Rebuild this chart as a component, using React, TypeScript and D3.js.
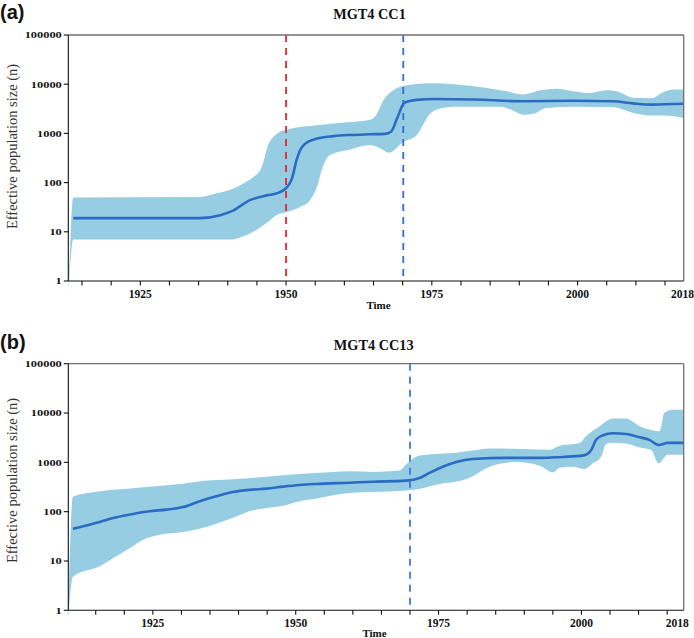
import React from "react";
import * as d3 from "d3";

type Pt = [number, number];

// ---------- data ----------
const yTickValues = [1, 10, 100, 1000, 10000, 100000];
const yTickLabels = ["1", "10", "100", "1000", "10000", "100000"];
const xTickYears = [1915, 1920, 1925, 1930, 1935, 1940, 1945, 1950, 1955, 1960, 1965, 1970, 1975, 1980, 1985, 1990, 1995, 2000, 2005, 2010, 2015];
const xLabelYears = [1925, 1950, 1975, 2000, 2018];

const cc1Median: Pt[] = [
  [1913.5, 19], [1935.2, 19], [1938.7, 21.8], [1940.9, 27], [1943.8, 44], [1946.7, 55], [1948.5, 61],
  [1950, 77], [1951.0, 120], [1951.8, 285], [1952.4, 454], [1953.3, 620], [1955.3, 785], [1958.1, 880],
  [1961, 930], [1964.4, 960], [1967.0, 980], [1968.0, 1080], [1969.1, 2100], [1970.3, 4200], [1972.4, 4800],
  [1975.4, 5000], [1982.1, 4900], [1990.7, 4500], [1999.2, 4600], [2006.1, 4500], [2009.5, 4080],
  [2012.7, 3850], [2018.2, 4000],
];
const cc1Upper: Pt[] = [
  [1912.7, 0.6], [1913.5, 50], [1935.2, 51], [1938, 60], [1940.9, 75], [1943.1, 103], [1944.4, 130],
  [1945.7, 193], [1946.2, 283], [1946.8, 530], [1948.5, 990], [1950, 1190], [1955.3, 1460], [1961, 1700],
  [1964.4, 1900], [1965.5, 2400], [1966.7, 4700], [1968.4, 7500], [1970.7, 9500], [1974.7, 10500],
  [1979.3, 9900], [1987.9, 7200], [1990.7, 6200], [1993.6, 7500], [1996.4, 8100], [1999.3, 7200],
  [2002.1, 6600], [2005, 7500], [2006.7, 7200], [2009.6, 5300], [2012.7, 5200], [2014.7, 6900],
  [2016.4, 7800], [2018.2, 7800],
];
const cc1Lower: Pt[] = [
  [1912.7, 0.55], [1913.5, 7], [1940.9, 7], [1942.1, 7.7], [1944.4, 10], [1946.7, 15.2], [1948.4, 22],
  [1950, 25], [1952.4, 32], [1954.1, 44], [1955.3, 82], [1956.1, 177], [1957.5, 358], [1961, 470],
  [1964.4, 580], [1966.5, 470], [1967.6, 405], [1970.1, 670], [1972.4, 920], [1974.7, 2500],
  [1976.4, 3200], [1979.3, 3500], [1986.7, 3500], [1989, 2900], [1990.7, 2400], [1992.4, 2500],
  [1994.7, 3300], [1999.3, 3500], [2006.1, 3400], [2009.6, 2600], [2012.7, 2300], [2014.7, 2300],
  [2018.2, 2050],
];

const cc13Median: Pt[] = [
  [1911.0, 45], [1915.7, 62], [1918.6, 77], [1921.5, 90], [1924.4, 102], [1927.4, 110], [1930.3, 124],
  [1933.2, 163], [1936.1, 205], [1939.0, 250], [1941.9, 277], [1944.9, 293], [1947.8, 322], [1950.7, 348],
  [1953.6, 365], [1959.4, 387], [1963.5, 405], [1969.3, 425], [1971.7, 483], [1973.4, 610], [1975.2, 770],
  [1978.1, 1020], [1981.0, 1170], [1986.8, 1230], [1992.7, 1230], [1995.6, 1270], [1999.7, 1350],
  [2000.8, 1430], [2001.7, 1760], [2002.6, 2900], [2003.8, 3550], [2005.5, 3900], [2007.8, 3750],
  [2010.2, 3230], [2011.9, 2850], [2013.5, 2250], [2015.1, 2480], [2017.9, 2480],
];
const cc13Upper: Pt[] = [
  [1910.2, 1.0], [1911.0, 200], [1915.7, 260], [1921.5, 300], [1927.4, 343], [1930.3, 370], [1933.2, 413],
  [1939.0, 454], [1944.9, 513], [1950.7, 582], [1956.5, 639], [1959.4, 660], [1963.5, 640], [1968.2, 680],
  [1969.3, 900], [1971.7, 1370], [1975.2, 1500], [1978.1, 1570], [1981.0, 1730], [1983.9, 1900],
  [1989.7, 1870], [1994.5, 1810], [1996.2, 2180], [1999.7, 2480], [2000.8, 3380], [2003.2, 5400],
  [2005.5, 7700], [2007.8, 7700], [2010.2, 5400], [2012.2, 4540], [2013.7, 4270], [2014.5, 10000],
  [2016.0, 11600], [2017.9, 11600],
];
const cc13Lower: Pt[] = [
  [1910.2, 0.6], [1911.0, 4.8], [1915.7, 7.8], [1918.6, 12.4], [1921.5, 19.9], [1923.3, 27], [1926.2, 34],
  [1930.3, 38.7], [1933.2, 45], [1936.1, 57], [1939.0, 75], [1941.9, 102], [1944.9, 119], [1947.8, 132],
  [1950.7, 163], [1953.6, 184], [1956.5, 215], [1959.4, 240], [1963.5, 250], [1969.3, 267], [1972.2, 300],
  [1975.2, 365], [1979.2, 433], [1981.0, 522], [1982.7, 690], [1985.1, 900], [1988.6, 1020], [1992.7, 857],
  [1995.0, 630], [1996.2, 780], [1998.5, 818], [2000.6, 735], [2002.0, 955], [2003.5, 1330], [2004.3, 2360],
  [2005.5, 2500], [2007.8, 2400], [2010.2, 1990], [2012.2, 1790], [2013.5, 955], [2015.1, 1420],
  [2017.9, 1420],
];

// ---------- layout ----------
const W = 694;
const H = 638;
const L = 68.3;
const R = 683.7;
const SERIF = "'Liberation Serif', 'Times New Roman', serif";
const SANS = "'Liberation Sans', Arial, sans-serif";
const BAND = "#96cde3";
const LINE = "#2b6cc3";

const panels = [
  {
    key: "a",
    letter: "(a)",
    letterY: 18.5,
    title: "MGT4 CC1",
    titleX: 369.5,
    titleY: 19.3,
    yTitleY: 146.5,
    top: 35,
    bottom: 281,
    domain: [1912.65, 2018.2],
    median: cc1Median,
    upper: cc1Upper,
    lower: cc1Lower,
    vlines: [
      { year: 1950, color: "#e8262a" },
      { year: 1970.1, color: "#2f6fdc" },
    ],
    lastShift: 0,
    timeX: 378.5,
    timeY: 309,
  },
  {
    key: "b",
    letter: "(b)",
    letterY: 348.6,
    title: "MGT4 CC13",
    titleX: 373.7,
    titleY: 350,
    yTitleY: 480.5,
    top: 363.7,
    bottom: 610.3,
    domain: [1910.2, 2017.9],
    median: cc13Median,
    upper: cc13Upper,
    lower: cc13Lower,
    vlines: [{ year: 1970, color: "#3b76e6" }],
    lastShift: -7,
    timeX: 374.5,
    timeY: 636.5,
  },
];

function Panel({ p }: { p: (typeof panels)[number] }) {
  const x = d3.scaleLinear().domain(p.domain).range([L, R]);
  const y = d3.scaleLog().domain([1, 100000]).range([p.bottom, p.top]);
  const line = d3
    .line<Pt>()
    .x((d) => x(d[0]))
    .y((d) => y(d[1]))
    .curve(d3.curveMonotoneX);
  const up = line(p.upper) as string;
  const lo = line([...p.lower].reverse()) as string;
  const area = up + "L" + lo.slice(1) + "Z";
  const med = line(p.median) as string;

  return (
    <g>
      <text x={0} y={p.letterY} fontFamily={SANS} fontWeight="bold" fontSize={20} fill="#111">
        {p.letter}
      </text>
      <text x={p.titleX} y={p.titleY} textAnchor="middle" fontFamily={SERIF} fontWeight="bold" fontSize={14.3} fill="#111">
        {p.title}
      </text>
      <text
        transform={`translate(12,${p.yTitleY}) rotate(-90)`}
        textAnchor="middle"
        dominantBaseline="central"
        fontFamily={SERIF}
        fontSize={14.5}
        fill="#333"
      >
        Effective population size (n)
      </text>

      <path d={area} fill={BAND} stroke="none" />
      <path d={med} fill="none" stroke={LINE} strokeWidth={2.6} strokeLinejoin="round" />

      {p.vlines.map((v, i) => (
        <line
          key={i}
          x1={x(v.year)}
          x2={x(v.year)}
          y1={p.top}
          y2={p.bottom}
          stroke={v.color}
          strokeWidth={1.8}
          strokeDasharray="7,6"
        />
      ))}

      {/* frame */}
      <line x1={L} x2={R} y1={p.top} y2={p.top} stroke="#707070" strokeWidth={1.3} />
      <line x1={R} x2={R} y1={p.top} y2={p.bottom} stroke="#707070" strokeWidth={1.3} />
      <line x1={L} x2={L} y1={p.top} y2={p.bottom} stroke="#111" strokeWidth={1.1} />
      <line x1={L} x2={R} y1={p.bottom} y2={p.bottom} stroke="#111" strokeWidth={1.1} />

      {yTickValues.map((v, i) => (
        <g key={v}>
          <line x1={L - 4.5} x2={L} y1={y(v)} y2={y(v)} stroke="#111" strokeWidth={1.1} />
          <text
            transform={`translate(${L - 6.5},${y(v)}) scale(1,0.74)`}
            textAnchor="end"
            dominantBaseline="central"
            fontFamily={SERIF}
            fontWeight="bold"
            fontSize={12.4}
            fill="#111"
          >
            {yTickLabels[i]}
          </text>
        </g>
      ))}

      {xTickYears.map((t) => (
        <line key={t} x1={x(t)} x2={x(t)} y1={p.bottom} y2={p.bottom + 4.5} stroke="#111" strokeWidth={1.1} />
      ))}
      {xLabelYears.map((t, i) => (
        <text
          key={t}
          x={x(t) + (i === xLabelYears.length - 1 ? p.lastShift : 0)}
          y={p.bottom + 16.8}
          textAnchor="middle"
          fontFamily={SERIF}
          fontWeight="bold"
          fontSize={11.5}
          fill="#111"
        >
          {t}
        </text>
      ))}
      <text x={p.timeX} y={p.timeY} textAnchor="middle" fontFamily={SERIF} fontWeight="bold" fontSize={11} fill="#111">
        Time
      </text>
    </g>
  );
}

export default function App() {
  return (
    <svg
      width={W}
      height={H}
      viewBox={`0 0 ${W} ${H}`}
      style={{ position: "absolute", left: 0, top: 0, background: "#fff" }}
    >
      <rect x={0} y={0} width={W} height={H} fill="#fff" />
      {panels.map((p) => (
        <Panel key={p.key} p={p} />
      ))}
    </svg>
  );
}
